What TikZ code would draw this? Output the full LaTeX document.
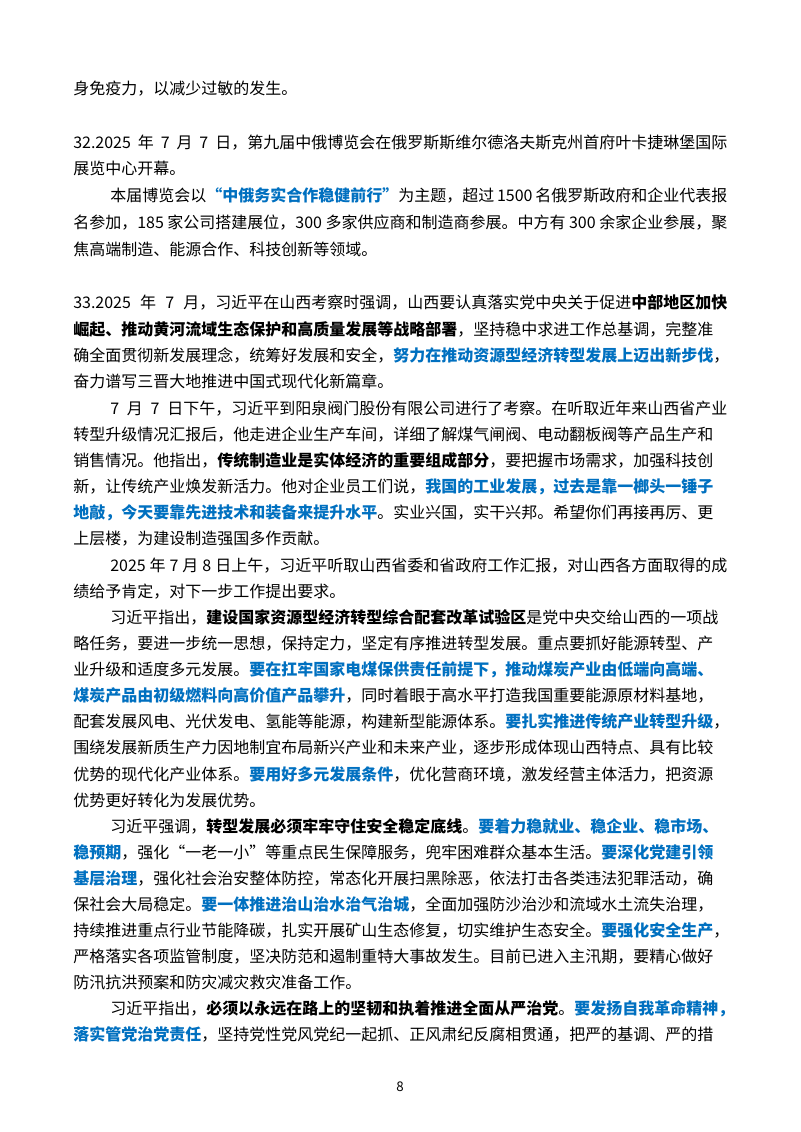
\documentclass[tikz,border=0pt]{standalone}
\usepackage{fontspec}
\setmainfont{Noto Sans CJK SC}
\definecolor{hb}{RGB}{0,112,192}
\newcommand\hlb[1]{{\bfseries\color{hb}#1}}
\newcommand\hlk[1]{{\bfseries #1}}
\XeTeXlinebreaklocale "zh"
\XeTeXlinebreakskip=0pt plus 1fil
\tikzset{ln/.style={anchor=base west,inner sep=0pt,font=\fontsize{12}{12}\selectfont}}
\newcommand\J[3]{\node[ln] (j#2) at (#1,#2) {\hbox to \dimexpr(727pt-#1pt)*3/4\relax{#3}};}
\newcommand\Lf[3]{\node[ln] (l#2) at (#1,#2) {#3};}
\begin{document}
\begin{tikzpicture}[x=0.75pt,y=-0.75pt]
\useasboundingbox (0,0) rectangle (800,1132);
\fill[white] (0,0) rectangle (800,1132);
\Lf{73}{94}{身免疫力，以减少过敏的发生。}
\J{73}{148}{32.2025 年 7 月 7 日，第九届中俄博览会在俄罗斯斯维尔德洛夫斯克州首府叶卡捷琳堡国际}
\Lf{73}{174}{展览中心开幕。}
\J{110}{201}{本届博览会以\hlb{“中俄务实合作稳健前行”}为主题，超过 1500 名俄罗斯政府和企业代表报}
\J{73}{228}{名参加，185 家公司搭建展位，300 多家供应商和制造商参展。中方有 300 余家企业参展，聚}
\Lf{73}{255}{焦高端制造、能源合作、科技创新等领域。}
\J{73}{308}{33.2025 年 7 月，习近平在山西考察时强调，山西要认真落实党中央关于促进\hlk{中部地区加快}}
\J{73}{335}{\hlk{崛起、推动黄河流域生态保护和高质量发展等战略部署}，坚持稳中求进工作总基调，完整准}
\J{73}{361}{确全面贯彻新发展理念，统筹好发展和安全，\hlb{努力在推动资源型经济转型发展上迈出新步伐}，}
\Lf{73}{387}{奋力谱写三晋大地推进中国式现代化新篇章。}
\J{110}{414}{7 月 7 日下午，习近平到阳泉阀门股份有限公司进行了考察。在听取近年来山西省产业}
\J{73}{440}{转型升级情况汇报后，他走进企业生产车间，详细了解煤气闸阀、电动翻板阀等产品生产和}
\J{73}{466}{销售情况。他指出，\hlk{传统制造业是实体经济的重要组成部分}，要把握市场需求，加强科技创}
\J{73}{492}{新，让传统产业焕发新活力。他对企业员工们说，\hlb{我国的工业发展，过去是靠一榔头一锤子}}
\J{73}{518}{\hlb{地敲，今天要靠先进技术和装备来提升水平}。实业兴国，实干兴邦。希望你们再接再厉、更}
\Lf{73}{544}{上层楼，为建设制造强国多作贡献。}
\J{110}{571}{2025 年 7 月 8 日上午，习近平听取山西省委和省政府工作汇报，对山西各方面取得的成}
\Lf{73}{597}{绩给予肯定，对下一步工作提出要求。}
\J{110}{623}{习近平指出，\hlk{建设国家资源型经济转型综合配套改革试验区}是党中央交给山西的一项战}
\J{73}{649}{略任务，要进一步统一思想，保持定力，坚定有序推进转型发展。重点要抓好能源转型、产}
\J{73}{675}{业升级和适度多元发展。\hlb{要在扛牢国家电煤保供责任前提下，推动煤炭产业由低端向高端、}}
\J{73}{701}{\hlb{煤炭产品由初级燃料向高价值产品攀升}，同时着眼于高水平打造我国重要能源原材料基地，}
\J{73}{727}{配套发展风电、光伏发电、氢能等能源，构建新型能源体系。\hlb{要扎实推进传统产业转型升级}，}
\J{73}{753}{围绕发展新质生产力因地制宜布局新兴产业和未来产业，逐步形成体现山西特点、具有比较}
\J{73}{780}{优势的现代化产业体系。\hlb{要用好多元发展条件}，优化营商环境，激发经营主体活力，把资源}
\Lf{73}{806}{优势更好转化为发展优势。}
\J{110}{832}{习近平强调，\hlk{转型发展必须牢牢守住安全稳定底线}。\hlb{要着力稳就业、稳企业、稳市场、}}
\J{73}{858}{\hlb{稳预期}，强化“一老一小”等重点民生保障服务，兜牢困难群众基本生活。\hlb{要深化党建引领}}
\J{73}{884}{\hlb{基层治理}，强化社会治安整体防控，常态化开展扫黑除恶，依法打击各类违法犯罪活动，确}
\J{73}{910}{保社会大局稳定。\hlb{要一体推进治山治水治气治城}，全面加强防沙治沙和流域水土流失治理，}
\J{73}{936}{持续推进重点行业节能降碳，扎实开展矿山生态修复，切实维护生态安全。\hlb{要强化安全生产}，}
\J{73}{962}{严格落实各项监管制度，坚决防范和遏制重特大事故发生。目前已进入主汛期，要精心做好}
\Lf{73}{988}{防汛抗洪预案和防灾减灾救灾准备工作。}
\J{110}{1014}{习近平指出，\hlk{必须以永远在路上的坚韧和执着推进全面从严治党}。\hlb{要发扬自我革命精神，}}
\J{73}{1040}{\hlb{落实管党治党责任}，坚持党性党风党纪一起抓、正风肃纪反腐相贯通，把严的基调、严的措}
\node[anchor=base,inner sep=0pt,font=\fontsize{10}{10}\selectfont] (pg) at (400,1091) {8};
\end{tikzpicture}
\end{document}
